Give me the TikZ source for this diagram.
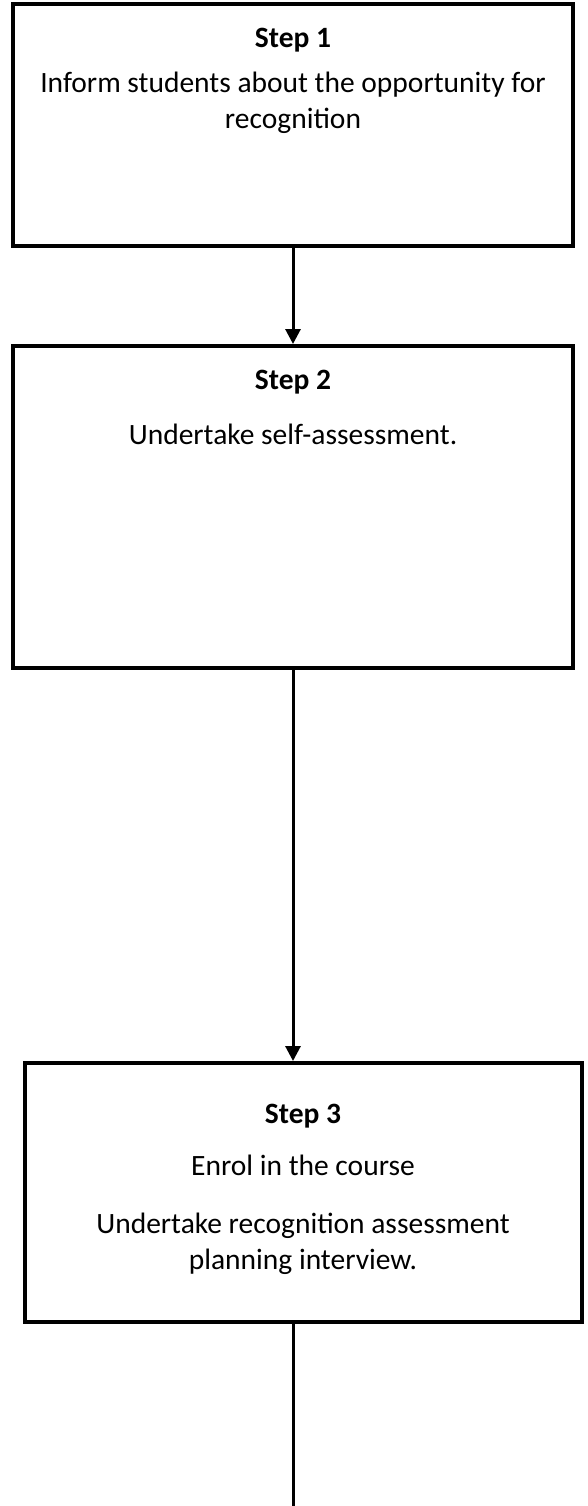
\documentclass[tikz,border=0pt]{standalone}
\usepackage{fontspec}
\setmainfont{Carlito}
\usetikzlibrary{arrows.meta}
\tikzset{
  stepbox/.style={draw=black, line width=4pt, fill=white, inner sep=0pt},
  steptitle/.style={font=\fontsize{29.5}{35.5}\selectfont\bfseries, inner sep=0pt, align=center},
  steptext/.style={font=\fontsize{29.5}{35.5}\selectfont, inner sep=0pt, align=center},
  flow/.style={draw=black, line width=3pt, -{Triangle[length=15pt,width=15pt]}},
  flowend/.style={draw=black, line width=3pt}
}
\begin{document}
\begin{tikzpicture}[x=1pt,y=-1pt]
\useasboundingbox (0,0) rectangle (587,1506);
% boxes
\node[stepbox, minimum width=560pt, minimum height=242pt] (b1) at (293,125) {};
\node[stepbox, minimum width=560pt, minimum height=322pt] (b2) at (293,507) {};
\node[stepbox, minimum width=557pt, minimum height=259pt] (b3) at (303.5,1192.5) {};
% texts
\node[steptitle] (t1) at (293,40) {Step 1};
\node[steptext] (d1) at (293,103) {Inform students about the opportunity for\\recognition};
\node[steptitle] (t2) at (293,382) {Step 2};
\node[steptext] (d2) at (293,434) {Undertake self-assessment.};
\node[steptitle] (t3) at (303,1116) {Step 3};
\node[steptext] (d3a) at (303,1165) {Enrol in the course};
\node[steptext] (d3b) at (303,1244) {Undertake recognition assessment\\planning interview.};
% connectors
\coordinate (c3) at (b2.south |- b3.north);
\coordinate (cend) at (293,1506);
\draw[flow] (b1.south) -- (b2.north);
\draw[flow] (b2.south) -- (c3);
\draw[flowend] (b3.south -| b2.south) -- (cend);
\end{tikzpicture}
\end{document}
